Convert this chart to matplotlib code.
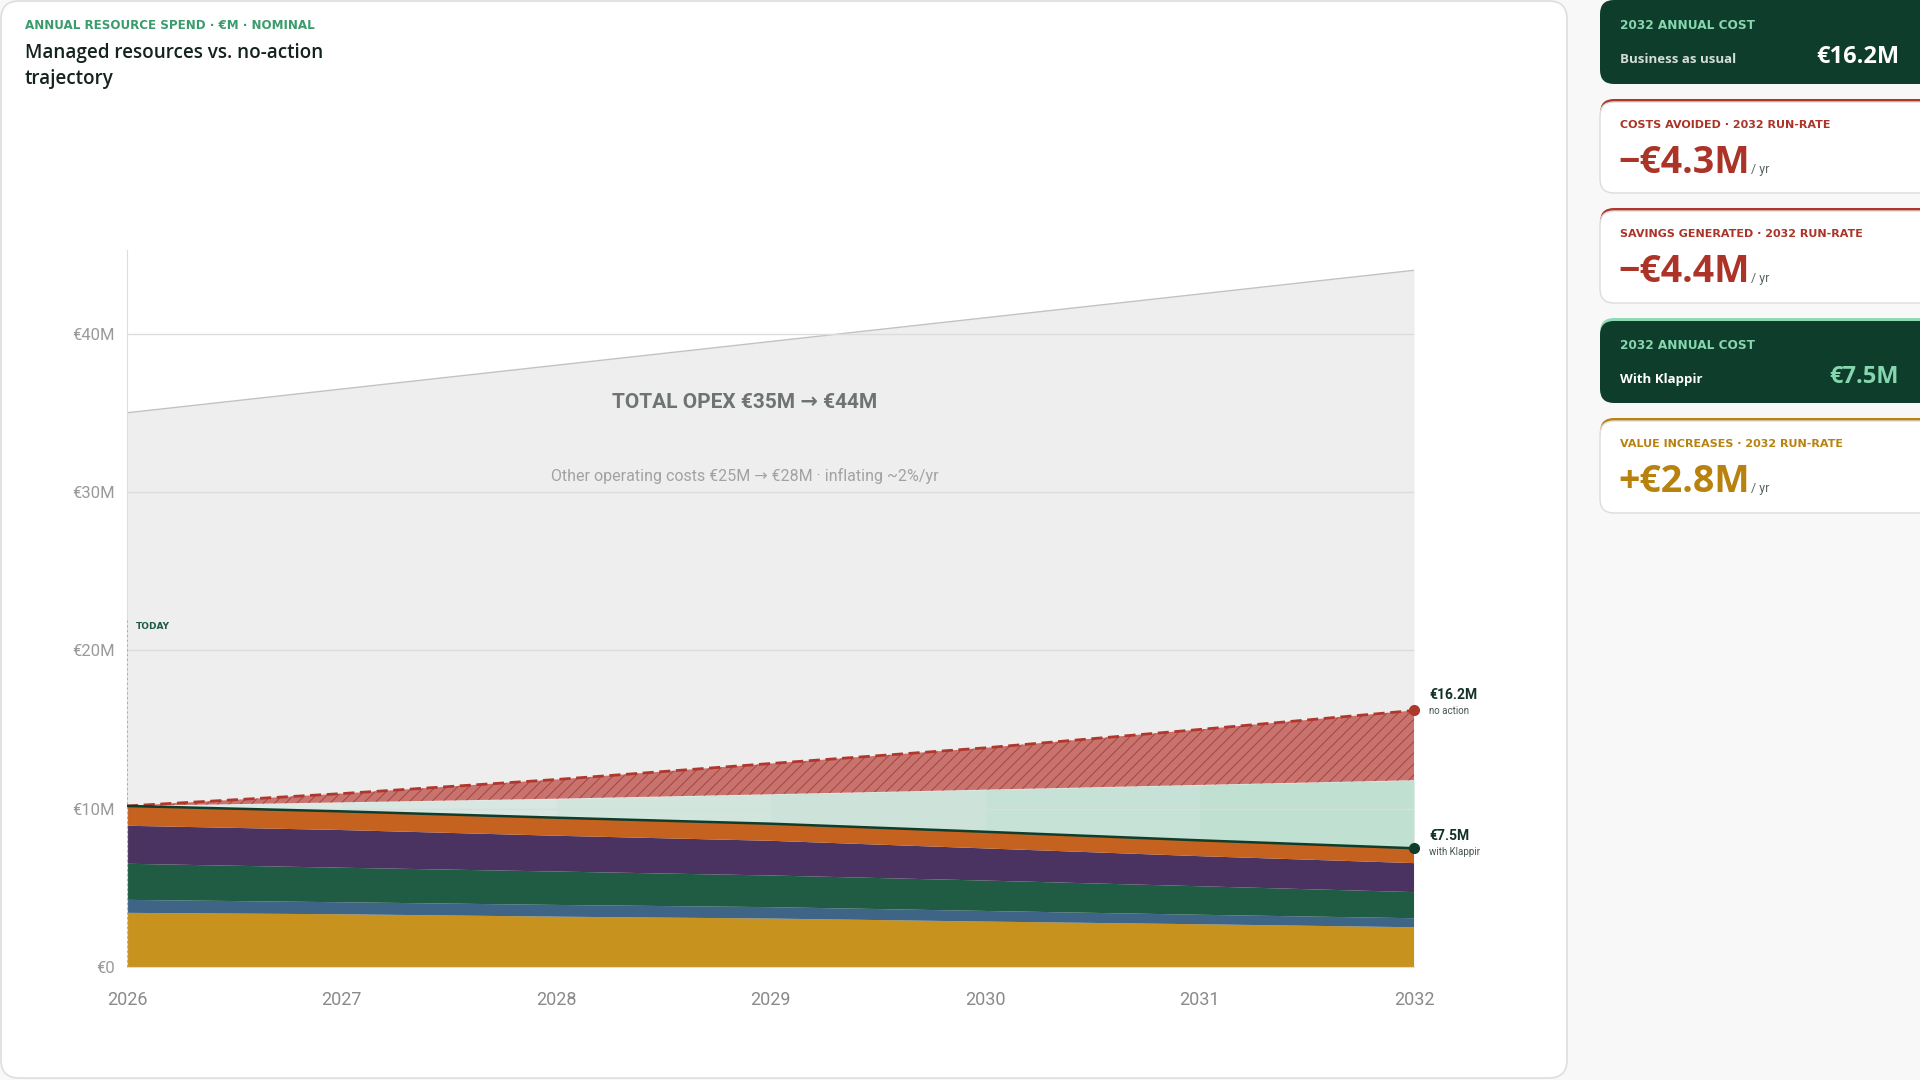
import numpy as np
import matplotlib.pyplot as plt
from matplotlib.patches import FancyBboxPatch

plt.rcParams['hatch.linewidth'] = 0.7

years = [2026, 2027, 2028, 2029, 2030, 2031, 2032]
# stacked managed resources (€M per layer)
gold = [3.42, 3.33, 3.18, 3.06, 2.87, 2.70, 2.51]
blue = [0.82, 0.76, 0.74, 0.72, 0.67, 0.60, 0.57]
green = [2.28, 2.18, 2.11, 2.00, 1.92, 1.80, 1.65]
purple = [2.40, 2.38, 2.26, 2.19, 2.03, 1.90, 1.83]
orange = [1.25, 1.18, 1.14, 1.08, 1.05, 1.00, 0.94]
avoided_top = [10.17, 10.40, 10.63, 10.91, 11.20, 11.50, 11.80]
no_action = [10.17, 10.95, 11.84, 12.85, 13.84, 15.00, 16.20]
total_opex = [35.0, 36.5, 38.0, 39.5, 41.0, 42.5, 44.0]
ytick_vals = [0, 10, 20, 30, 40]
ytick_labels = ['€0', '€10M', '€20M', '€30M', '€40M']

layer_colors = ['#c8921f', '#3e6585', '#1f5c43', '#4a3360', '#c6621f']
narrow = ['Liberation Sans Narrow', 'Roboto', 'DejaVu Sans']
sans = ['Open Sans', 'DejaVu Sans']

fig = plt.figure(figsize=(19.2, 10.8), dpi=100, facecolor='#f8f8f8')

# background layer in pixel coords
bg = fig.add_axes([0, 0, 1, 1], zorder=0)
bg.set_xlim(0, 1920)
bg.set_ylim(1080, 0)
bg.axis('off')

bg.add_patch(FancyBboxPatch((1, 1), 1566, 1077, boxstyle='round,pad=0,rounding_size=18',
                            fc='white', ec='#dedede', lw=1.2))

bg.text(25, 29, 'ANNUAL RESOURCE SPEND · €M · NOMINAL', fontsize=8.6, fontweight='bold',
        color='#3a9b6c', family='DejaVu Sans')
bg.text(25, 58, 'Managed resources vs. no-action', fontsize=13.6, fontweight='semibold',
        color='#14231c', family=sans)
bg.text(25, 84, 'trajectory', fontsize=13.6, fontweight='semibold', color='#14231c', family=sans)


def card(top, bottom, face, accent):
    if accent is not None:
        bg.add_patch(FancyBboxPatch((1600, top), 340, 30, boxstyle='round,pad=0,rounding_size=14',
                                    fc=accent, ec='none'))
        top += 3
    bg.add_patch(FancyBboxPatch((1600, top), 340, bottom - top,
                                boxstyle='round,pad=0,rounding_size=14',
                                fc=face, ec='#dcdcdc' if face == 'white' else 'none', lw=1))


card(0, 84, '#0f3d2c', None)
card(99, 193, 'white', '#b0352b')
card(208, 303, 'white', '#b0352b')
card(318, 403, '#0f3d2c', '#8fdab5')
card(418, 513, 'white', '#b9820f')

bg.text(1620, 29, '2032 ANNUAL COST', fontsize=8.7, fontweight='bold', color='#86d6ae', family='DejaVu Sans')
bg.text(1620, 63, 'Business as usual', fontsize=9.5, fontweight='bold', color='#d5ddd9', family=sans)
bg.text(1899, 63, '€16.2M', fontsize=17, fontweight='bold', color='white', family=sans, ha='right')

bg.text(1620, 349, '2032 ANNUAL COST', fontsize=8.7, fontweight='bold', color='#86d6ae', family='DejaVu Sans')
bg.text(1620, 383, 'With Klappir', fontsize=9.5, fontweight='bold', color='white', family=sans)
bg.text(1899, 383, '€7.5M', fontsize=17, fontweight='bold', color='#86d6ae', family=sans, ha='right')

for lab, val, base, col in [('COSTS AVOIDED · 2032 RUN-RATE', '−€4.3M', 128, '#ab3328'),
                            ('SAVINGS GENERATED · 2032 RUN-RATE', '−€4.4M', 237, '#ab3328'),
                            ('VALUE INCREASES · 2032 RUN-RATE', '+€2.8M', 447, '#b8820f')]:
    bg.text(1620, base, lab, fontsize=8, fontweight='bold', color=col, family='DejaVu Sans')
    bg.text(1618, base + 45, val, fontsize=27, fontweight='bold', color=col, family=sans)
    bg.text(1751, base + 45, '/ yr', fontsize=9, color='#5a6560', family=narrow)

# chart
ax = fig.add_axes([127 / 1920, (1080 - 967) / 1080, (1414 - 127) / 1920, (967 - 249.7) / 1080],
                  zorder=2)
ax.set_facecolor('none')

ax.fill_between(years, 0, total_opex, color='#eeeeee', lw=0, zorder=1)
ax.plot(years, total_opex, color='#c2c2c2', lw=1, zorder=1.1)

klappir = np.sum([gold, blue, green, purple, orange], axis=0)
alphas = [0.22, 0.30, 0.38, 0.46, 0.55, 0.63]
for i in range(len(years) - 1):
    ax.fill_between(years[i:i + 2], klappir[i:i + 2], avoided_top[i:i + 2],
                    color='#a6d8c3', alpha=alphas[i], lw=0, zorder=1.2)

for v in ytick_vals[1:]:
    ax.axhline(v, color='#dcdcdc', lw=1, zorder=1.5)

ax.stackplot(years, gold, blue, green, purple, orange, colors=layer_colors, lw=0, zorder=2)
ax.fill_between(years, avoided_top, no_action, facecolor='#c9736f', edgecolor='#a6443e',
                hatch='///', lw=0, zorder=2)
ax.plot(years, no_action, color='#b0372c', lw=2, dashes=(4, 2), zorder=3)
ax.plot(years, klappir, color='#0f3d2c', lw=1.8, zorder=3)
ax.plot(years[-1], no_action[-1], 'o', color='#b0372c', ms=7, zorder=4, clip_on=False)
ax.plot(years[-1], klappir[-1], 'o', color='#0f3d2c', ms=7, zorder=4, clip_on=False)

ax.plot([2026, 2026], [0, 21.9], ls=':', color='#6cc09a', lw=1.3, zorder=3)
ax.text(2026.04, 21.5, 'TODAY', fontsize=6.5, fontweight='bold', color='#1f5c43',
        family='DejaVu Sans', va='center', zorder=4)

ax.text(2028.88, 35.65, 'TOTAL OPEX €35M → €44M', fontsize=15, fontweight='bold', color='#6e7571',
        family=narrow, ha='center', va='center', zorder=4)
ax.text(2028.88, 31.0, 'Other operating costs €25M → €28M · inflating ~2%/yr', fontsize=11.5,
        color='#a2a2a2', family=narrow, ha='center', va='center', zorder=4)

ax.text(2032.07, 16.95, '€16.2M', fontsize=10, fontweight='bold', color='#14312a',
        family=narrow, va='baseline', clip_on=False)
ax.text(2032.07, 16.0, 'no action', fontsize=7, color='#445650', family=narrow,
        va='baseline', clip_on=False)
ax.text(2032.07, 8.0, '€7.5M', fontsize=10, fontweight='bold', color='#14312a',
        family=narrow, va='baseline', clip_on=False)
ax.text(2032.07, 7.1, 'with Klappir', fontsize=7, color='#445650', family=narrow,
        va='baseline', clip_on=False)

ax.set_xlim(2026, 2032)
ax.set_ylim(0, 45.3)
ax.set_xticks(years)
ax.set_xticklabels([str(y) for y in years], fontsize=13, color='#8a8a8a', family=narrow)
ax.set_yticks(ytick_vals)
ax.set_yticklabels(ytick_labels, fontsize=12, color='#9a9a9a', family=narrow)
ax.tick_params(length=0)
ax.tick_params(axis='x', pad=17)
ax.tick_params(axis='y', pad=9)
for s in ['top', 'right']:
    ax.spines[s].set_visible(False)
ax.spines['left'].set_color('#dddddd')
ax.spines['bottom'].set_color('#dddddd')

fig.savefig('out.png', dpi=100, facecolor=fig.get_facecolor())
